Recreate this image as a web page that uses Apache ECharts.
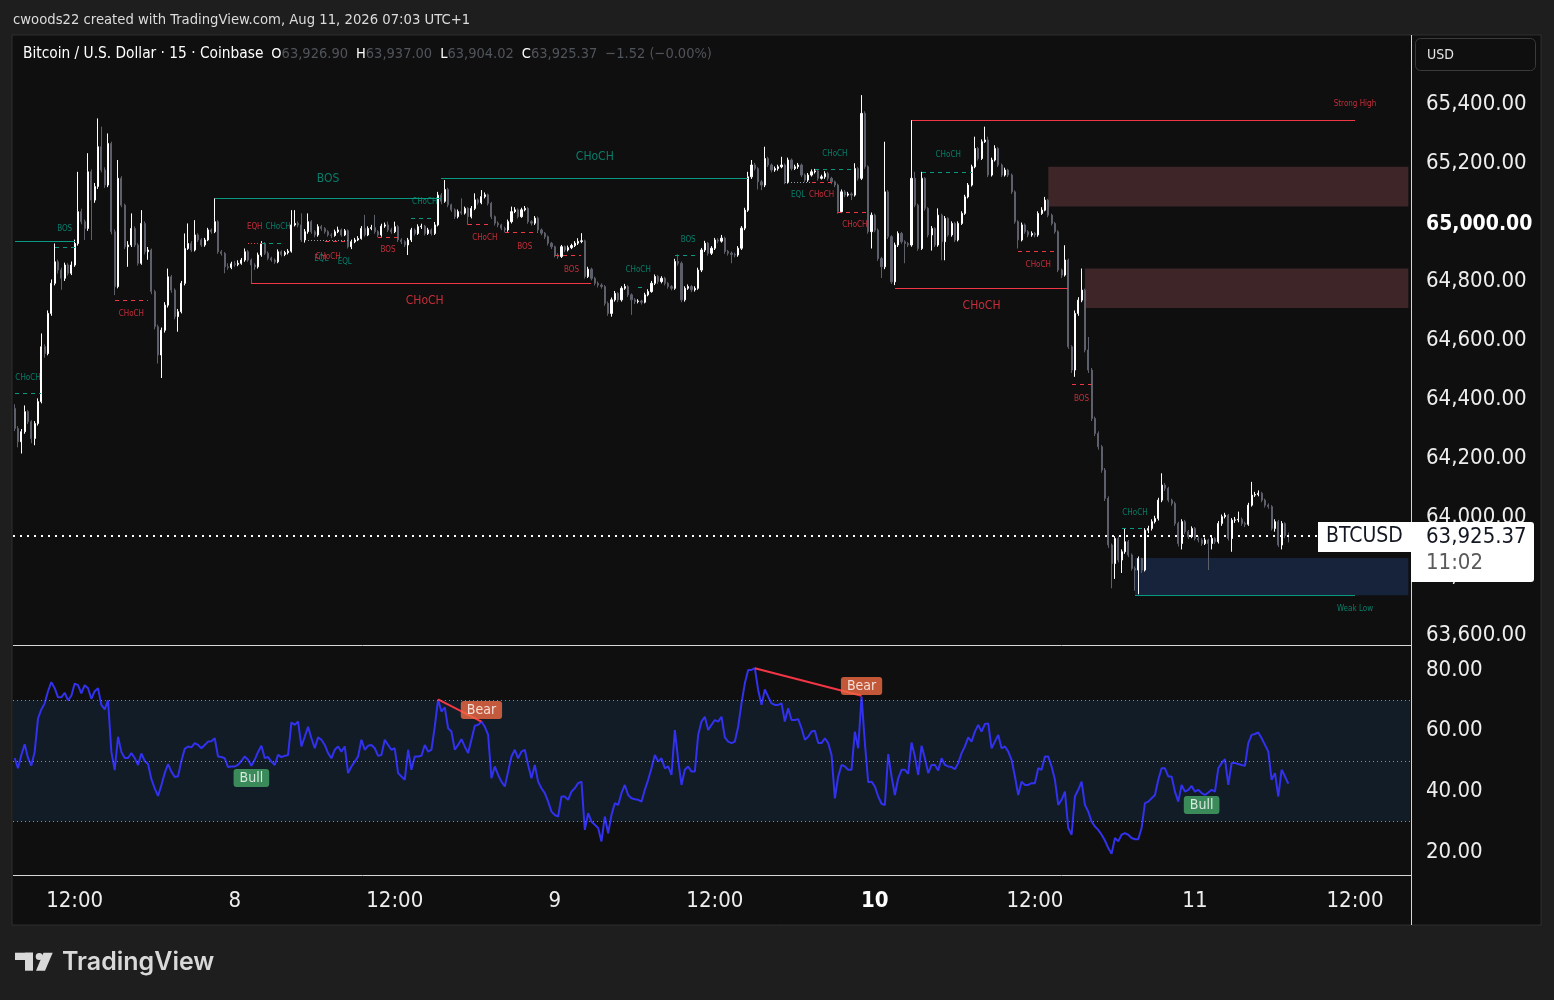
<!DOCTYPE html>
<html><head><meta charset="utf-8">
<script src="https://cdn.jsdelivr.net/npm/echarts@6/dist/echarts.min.js"></script>
<style>html,body{margin:0;padding:0;background:#1e1e1e;}#c{width:1554px;height:1000px;}</style>
</head><body><div id="c"></div>
<script>
const FONT = '"DejaVu Sans Condensed","DejaVu Sans",sans-serif';

// ---- data (15-minute candles, Aug 7 07:30 -> Aug 11 07:00) ----
const firstOpen = 64358;
const closes = [
64290,64245,64279,64347,64313,64256,64307,64381,64567,64544,
64680,64782,64855,64827,64799,64844,64816,64844,64917,65025,
64991,64968,65160,65064,65110,65245,65166,65115,65256,64957,
64771,65138,65047,64906,64912,64968,64912,64850,64985,64889,
64895,64754,64635,64539,64623,64708,64804,64759,64669,64686,
64782,64900,64917,64895,64946,64929,64912,64929,64963,64957,
64991,64889,64883,64838,64836,64848,64846,64850,64861,64889,
64861,64844,64838,64878,64917,64884,64867,64861,64855,64889,
64880,64886,64891,64980,64985,64980,64929,64957,64991,64957,
64946,64974,64968,64957,64946,64944,64957,64963,64946,64960,
64906,64923,64929,64934,64968,64946,64968,64971,64957,64946,
64976,64980,64963,64957,64974,64929,64923,64912,64929,64963,
64951,64974,64976,64951,64963,64951,64980,65081,65060,65100,
65048,65031,65008,65025,65020,65036,65008,65036,65065,65055,
65076,65082,65053,65008,64986,64980,64969,64963,64991,65025,
65031,65008,65031,65036,64991,64986,65003,64963,64952,64940,
64918,64906,64878,64873,64906,64895,64903,64910,64918,64924,
64926,64805,64830,64799,64782,64776,64771,64714,64680,64726,
64748,64726,64765,64771,64743,64726,64720,64722,64718,64743,
64754,64782,64805,64788,64799,64782,64771,64765,64856,64850,
64726,64765,64771,64760,64765,64827,64895,64918,64884,64901,
64929,64925,64935,64890,64884,64880,64878,64901,64969,65030,
65143,65183,65171,65126,65115,65205,65183,65166,65171,65177,
65183,65126,65200,65171,65177,65183,65149,65132,65149,65160,
65163,65138,65143,65154,65138,65126,65115,65025,65092,65081,
65085,65081,65171,65138,65358,65177,64957,65013,64962,64866,
64838,65092,64940,64787,64912,64951,64923,64917,64912,65138,
65047,64900,65138,65036,64946,64968,64912,65013,64923,65002,
64946,64985,64929,64985,65019,65075,65115,65177,65239,65205,
65262,65268,65149,65200,65239,65183,65149,65166,65149,65092,
64991,64929,64980,64957,64946,64951,64946,65019,65030,65064,
65013,64985,64957,64827,64810,64861,64567,64488,64680,64725,
64759,64556,64488,64324,64273,64228,64149,64053,63895,63832,
63917,63844,63872,63906,63861,63815,63810,63849,63810,63945,
63951,63974,63985,64047,64098,64087,64047,64036,63968,63900,
63974,63940,63923,63951,63917,63912,63900,63912,63900,63917,
63906,63968,63991,63996,63917,63979,63980,63982,63968,63965,
64030,64064,64066,64070,64047,64030,64025,63951,63974,63895,
63968,63926.9,63925.37];
const highs = [
64372,64298,64288,64368,64352,64318,64315,64392,64612,64575,
64690,64795,64917,64862,64835,64852,64850,64856,64930,65160,
65035,64998,65223,65168,65122,65341,65313,65175,65290,65262,
64965,65200,65145,65052,64925,65019,64975,64918,65030,64992,
64905,64900,64760,64642,64632,64718,64832,64810,64765,64695,
64790,64951,64985,64925,64996,64952,64935,64936,64970,64968,
65070,64996,64895,64888,64850,64855,64858,64860,64868,64900,
64895,64866,64850,64886,64925,64922,64890,64872,64866,64897,
64894,64892,64898,65030,65030,64992,65019,64966,65019,64996,
64962,64982,64980,64972,64962,64952,64964,64974,64968,64966,
64965,64930,64936,64942,64976,65014,64975,64980,65014,64962,
64984,64988,64991,64970,64991,64980,64935,64928,64936,64970,
64968,64982,64984,64980,64970,64968,64990,65092,65088,65132,
65106,65052,65036,65032,65070,65042,65040,65044,65087,65070,
65098,65090,65086,65058,65012,64992,64984,64974,64998,65042,
65040,65036,65038,65044,65040,64996,65010,65008,64968,64956,
64944,64922,64910,64884,64912,64910,64910,64916,64925,64935,
64952,64930,64838,64835,64804,64788,64782,64776,64720,64734,
64756,64752,64772,64780,64776,64748,64732,64728,64726,64750,
64762,64790,64812,64810,64806,64804,64786,64776,64865,64880,
64856,64772,64778,64776,64772,64835,64902,64926,64922,64908,
64936,64935,64946,64940,64895,64890,64886,64908,64976,65038,
65160,65200,65190,65176,65132,65245,65211,65188,65178,65184,
65211,65188,65208,65205,65184,65190,65188,65154,65156,65168,
65170,65168,65150,65162,65160,65143,65130,65120,65100,65098,
65092,65090,65189,65176,65420,65365,65182,65022,65018,64968,
64872,65262,65098,64945,64920,64958,64956,64928,64922,65335,
65160,65052,65160,65142,65040,64976,64972,65036,65018,65010,
65006,64992,64990,64992,65026,65082,65122,65184,65279,65244,
65270,65313,65279,65208,65250,65244,65188,65174,65170,65154,
65097,64996,64988,64985,64962,64958,64956,65026,65040,65075,
65068,65018,64990,64962,64832,64911,64866,64572,64690,64735,
64832,64764,64600,64495,64330,64280,64234,64156,64060,63900,
63925,63924,63880,63951,63912,63866,63822,63856,63852,63952,
63960,63982,63994,64055,64138,64105,64092,64052,64042,63974,
63982,63980,63946,63958,63956,63924,63918,63920,63916,63924,
63922,63976,63998,64004,64000,63986,63990,64008,63988,63974,
64038,64109,64075,64080,64075,64052,64036,64030,63982,63980,
63976,63972,63937];
const lows = [
64281,64226,64205,64272,64305,64240,64233,64300,64375,64530,
64538,64672,64775,64815,64760,64790,64808,64810,64838,64910,
64982,64929,64960,64929,65055,65102,65158,65105,65108,64948,
64742,64765,65040,64898,64838,64905,64905,64842,64845,64880,
64862,64745,64626,64510,64461,64615,64700,64750,64660,64618,
64680,64775,64895,64888,64890,64922,64905,64906,64925,64950,
64952,64882,64876,64816,64828,64830,64838,64840,64845,64855,
64855,64782,64827,64832,64872,64878,64860,64855,64848,64850,
64873,64874,64880,64886,64975,64972,64922,64920,64950,64950,
64938,64940,64960,64950,64940,64935,64940,64952,64940,64942,
64900,64898,64918,64925,64930,64940,64942,64962,64950,64938,
64940,64970,64956,64950,64952,64922,64915,64905,64878,64922,
64944,64946,64966,64944,64946,64944,64946,64975,65050,65055,
65040,65024,65000,65002,65014,65015,64980,65002,65030,65048,
65050,65070,65046,65000,64978,64972,64962,64955,64957,64985,
65020,65002,65004,65026,64984,64978,64980,64956,64945,64932,
64910,64898,64870,64865,64868,64888,64890,64898,64905,64912,
64918,64798,64800,64792,64775,64768,64764,64706,64672,64669,
64720,64718,64720,64760,64736,64675,64712,64714,64710,64714,
64738,64750,64776,64780,64782,64775,64764,64758,64760,64842,
64718,64720,64760,64752,64754,64760,64820,64888,64876,64878,
64895,64918,64920,64882,64876,64850,64870,64872,64895,64962,
65024,65136,65164,65100,65098,65108,65176,65158,65160,65164,
65172,65118,65120,65164,65166,65170,65142,65125,65126,65144,
65154,65130,65134,65136,65130,65118,65108,65018,65020,65074,
65076,65064,65076,65130,65132,65170,64950,64900,64955,64858,
64800,64830,64932,64780,64776,64905,64916,64850,64905,64906,
65040,64892,64895,65028,64938,64893,64905,64906,64860,64860,
64940,64940,64922,64924,64980,65014,65070,65110,65172,65198,
65200,65258,65142,65144,65195,65176,65142,65144,65142,65085,
64984,64900,64924,64950,64938,64940,64938,64940,65014,65026,
65006,64978,64950,64820,64800,64805,64560,64478,64465,64672,
64718,64548,64478,64315,64264,64218,64140,64044,63885,63748,
63780,63836,63800,63865,63854,63808,63740,63728,63800,63805,
63935,63944,63968,63978,64040,64078,64040,64028,63960,63890,
63880,63932,63915,63918,63910,63904,63892,63895,63810,63880,
63898,63900,63960,63985,63910,63872,63970,63972,63960,63956,
63960,64025,64058,64060,64040,64022,64018,63944,63940,63888,
63880,63918,63904.02];
const rsi = [
51,47.6,52,55.5,51,48.5,53,64,67,69,
73,76,74,71,71,72.5,70,71.5,75.5,75,
72.3,75,74,70.5,73,74,68.5,67,70,53,
47,58,53,51,51,52.6,51,48.7,52.5,50,
49,44,41,38.5,42,46,49,46.5,44.7,45,
50,54,54.8,54.5,55.9,55.3,54.2,55.3,56.4,56.5,
57.5,51.5,51.3,50.9,48,48.2,48.2,48.7,50,51.5,
50.4,48.4,50.4,53,55,51,51.3,49.8,48.7,52,
51.3,51.7,52,62.7,61.9,63,54.8,58,61.3,57.5,
54.2,57.8,57,55.3,52.6,50.9,53.7,54.8,53.1,54.8,
46,48.2,49.8,51.5,57,53.7,55,55.3,54.2,51.7,
52,57,55.3,53.7,54.2,46,44.9,43.8,53.7,47.1,
51.5,51.5,51.7,55.3,53.1,53.7,61.3,70.3,66.3,67.7,
60.8,59.7,53.7,55.3,57.2,54.8,52.6,57,61.6,61.9,
63,61.3,58.6,44.3,48.2,45.4,43.2,41.6,46.5,51.5,
53.7,50.9,53.1,53.7,48.7,44.3,48.7,43.2,41,39.4,
36.6,33.3,32.2,31.7,38.3,38.3,37.2,39.9,41,42.7,
43.2,27.3,32.8,30,29,27.9,23.5,31.7,26.2,32.2,
36.1,35.5,39.4,42.1,38.8,37.7,37.4,37.2,36.6,40.5,
43.8,47.6,52,49.8,50.9,47.6,48.2,45.4,60.2,50.4,
42.1,47.1,48.2,46.5,46.5,58.6,63,64.6,60.2,61.9,
63.5,63,64.6,57.8,56.4,55.9,56.4,61.3,69,75.6,
80,80,80.6,73.4,68.5,73.6,71.2,69,68.5,68.5,
69,63,67.4,63.5,63.5,63.8,60.8,57,58,59.7,
60,55.9,55.9,57.5,55.9,52,37.7,44.9,48.7,48.2,
47.1,47.1,59.7,54.2,71.2,56,43,43.2,41.6,38.3,
35.9,35.5,52.3,44.9,38.8,44.3,47.1,47.1,45.8,56.1,
51.5,45.4,55,50.9,46,48.7,48.7,46.9,50.9,48.7,
48.2,48,47.3,49.3,52.6,54.8,57.8,56.4,59.7,61.9,
59.7,62.2,62.4,54.2,56.4,58.6,54.2,54.8,53.1,50.4,
44.9,38.8,43.2,42.1,42.1,42.7,42.7,47.6,47.1,51.5,
51.5,48.2,43.8,35.5,37.2,39.9,27.9,25.7,38.3,40.5,
43.2,35.5,33.3,30,28.4,27.3,25.7,23.8,21.3,19.4,
24.6,23.5,25.7,26.2,25.7,24.6,24.2,24.2,27.9,36.1,
36.6,37.7,38.8,43.8,47.6,47.6,44.9,44.9,39.9,36.6,
42.1,39.9,40.5,41.8,39.9,40.5,39.4,38.8,39.6,40.5,
39.9,47.6,49.3,50.6,42.1,49.3,49.3,49,48.7,48.4,
55.9,58.6,58.9,59.4,57.5,55.3,53.1,43.8,46,38.3,
47.1,44.9,42.5];

// market-structure lines: [fromIndex, toIndex, price, colour, style]
const structureLines = [
 [0,18,64925,'G','S'],[12,18,64905,'G','D'],[0,8,64410,'G','D'],[30,40,64726,'R','D'],
 [60,128,65070,'G','S'],[71,173,64783,'R','S'],[128,220,65139,'G','S'],
 [70,74,64919,'R','P'],[74,80,64919,'G','D'],[88,100,64930,'N','P'],[93,99,64925,'R','D'],
 [109,115,64939,'R','D'],[119,125,65003,'G','D'],[136,143,64983,'R','D'],[147,157,64956,'R','D'],
 [162,170,64878,'R','D'],[187,189,64769,'G','D'],[198,204,64878,'G','D'],[240,252,65169,'G','D'],
 [231,239,65125,'N','P'],[239,245,65125,'R','D'],[247,256,65024,'R','D'],[272,287,65159,'G','D'],
 [269,402,65336,'R','S'],[264,316,64766,'R','S'],[301,312,64892,'R','D'],[317,323,64441,'R','D'],
 [332,338,63953,'G','D'],[336,402,63725,'G','S']
];
// labels: [text, index, price, colour, size]
const structureLabels = [
 ['BOS',15,64966,'G',8],['CHoCH',4,64461,'G',8],['CHoCH',35,64678,'R',8],
 ['BOS',94,65136,'G',12],['CHoCH',123,64722,'R',12],['CHoCH',174,65210,'G',12],
 ['EQH',72,64973,'R',8],['CHoCH',79,64973,'G',8],['EQL',92,64864,'G',8],['CHoCH',94,64871,'R',8],
 ['EQL',99,64854,'G',8],['BOS',112,64895,'R',8],['CHoCH',123,65058,'G',8],['CHoCH',141,64936,'R',8],
 ['BOS',153,64905,'R',8],['BOS',167,64827,'R',8],['CHoCH',187,64827,'G',8],['BOS',202,64929,'G',8],
 ['CHoCH',246,65220,'G',8],['EQL',235,65081,'G',8],['CHoCH',242,65081,'R',8],['CHoCH',252,64980,'R',8],
 ['CHoCH',280,65217,'G',8],['CHoCH',290,64705,'R',12],['CHoCH',307,64844,'R',8],['BOS',320,64390,'R',8],
 ['CHoCH',336,64003,'G',8],['Strong High',402,65390,'R',8],['Weak Low',402,63678,'G',8]
];
// zones: [fromIndex, toIndex, top, bottom, fill]
const zones = [
 [310,418,65177,65042,'#3d2528'],[321,418,64832,64698,'#3d2528'],[336,418,63851,63725,'#16233b']
];
// RSI divergence lines and tags
const divergenceLines = [[127,70.3,140,63],[222,80.6,254,71.5]];
const rsiTags = [['Bear',140,66.8,'#f06a43'],['Bear',254,74.7,'#f06a43'],['Bull',71,44.4,'#45a867'],['Bull',356,35.5,'#45a867']];
const rsiLevels = [70,50,30];

// time categories
const pad = n => String(n).padStart(2,'0');
const startTime = Date.UTC(2026,7,7,7,30);
const categories = [];
for (let k = 0; k < 419; k++) {
  const d = new Date(startTime + k*900000);
  categories.push(d.getUTCFullYear()+'-'+pad(d.getUTCMonth()+1)+'-'+pad(d.getUTCDate())+' '+pad(d.getUTCHours())+':'+pad(d.getUTCMinutes()));
}

const COL = {G:'#089981', R:'#f23645', N:'#9598a1'};
const DASH = {S:null, D:[4,4], P:[1,2]};
const candles = closes.map((c,i) => [i===0 ? firstOpen : closes[i-1], c, lows[i], highs[i]]);
const lastPrice = closes[closes.length-1];
const fmt = v => v.toLocaleString('en-US',{minimumFractionDigits:2, maximumFractionDigits:2});

const chart = echarts.init(document.getElementById('c'), null, {renderer:'canvas'});
const option = {
  animation: false,
  backgroundColor: 'transparent',
  grid: [
    {left:13, right:144, top:42, height:590},
    {left:13, right:144, top:639.65, height:242.7}
  ],
  xAxis: [
    {type:'category', gridIndex:0, data:categories, boundaryGap:true, axisLine:{show:false}, axisTick:{show:false}, axisLabel:{show:false}, splitLine:{show:false}},
    {type:'category', gridIndex:1, data:categories, boundaryGap:true, axisLine:{show:false}, axisTick:{show:false}, splitLine:{show:false},
     axisLabel:{interval:(i,v)=>{const t=v.slice(-5); return t==='00:00'||t==='12:00';},
       formatter:v=>{const t=v.slice(-5); if(t==='00:00'){const d=+v.slice(8,10); return d===10?'{b|10}':String(d);} return t;},
       color:'#eeeeee', fontSize:22, fontFamily:FONT, margin:8,
       rich:{b:{fontWeight:'bold', fontSize:22, fontFamily:FONT, color:'#ffffff'}}}}
  ],
  yAxis: [
    {type:'value', gridIndex:0, position:'right', min:63600, max:65600, interval:200, scale:true,
     axisLine:{show:false}, axisTick:{show:false}, splitLine:{show:false},
     axisLabel:{showMaxLabel:false, color:'#eeeeee', fontSize:22, fontFamily:FONT, margin:16, padding:[6,0,0,0],
       formatter:v=> v===65000 ? '{b|'+fmt(v)+'}' : fmt(v),
       rich:{b:{fontWeight:'bold', fontSize:21, fontFamily:FONT, color:'#ffffff', padding:[6,0,0,0]}}}},
    {type:'value', gridIndex:1, position:'right', min:10, max:90, interval:10,
     axisLine:{show:false}, axisTick:{show:false}, splitLine:{show:false},
     axisLabel:{color:'#eeeeee', fontSize:22, fontFamily:FONT, margin:16, padding:[6,0,0,0], showMinLabel:false, showMaxLabel:false,
       formatter:v=> (v%20===0 && v>=20 && v<=80) ? v.toFixed(2) : ''}}
  ],
  series: [
    {type:'candlestick', name:'BTCUSD', xAxisIndex:0, yAxisIndex:0, data:candles, barWidth:1.6, z:2,
     itemStyle:{color:'#ffffff', color0:'#5d606b', borderColor:'#ffffff', borderColor0:'#5d606b', borderWidth:1},
     markArea:{silent:true, data: zones.map(([x1,x2,p1,p2,c]) => [{coord:[x1,p1], itemStyle:{color:c}}, {coord:[x2,p2]}])},
     markLine:{silent:true, symbol:'none', label:{show:false},
       data: [{yAxis:lastPrice, lineStyle:{color:'#ffffff', width:2, type:[2,5]}}]}
    },
    {type:'scatter', xAxisIndex:0, yAxisIndex:0, symbolSize:1, silent:true, itemStyle:{color:'transparent'}, z:5,
     data: structureLabels.map(([t,x,p,c,s]) => ({value:[x,p], name:t, label:{show:true, position:'inside', formatter:t, color:COL[c], fontSize:s, fontFamily:FONT}}))},
    {type:'line', xAxisIndex:1, yAxisIndex:1, data:rsi, showSymbol:false, smooth:false, z:3,
     lineStyle:{color:'#3131ee', width:2},
     markArea:{silent:true, data:[[{yAxis:30, itemStyle:{color:'#111c27'}},{yAxis:70}]]},
     markLine:{silent:true, symbol:'none', label:{show:false},
       data: rsiLevels.map(v => ({yAxis:v, lineStyle:{color:'#8a8d95', width:1, type:[1,3]}}))}
    },
    {type:'lines', coordinateSystem:'cartesian2d', xAxisIndex:1, yAxisIndex:1, silent:true, z:4,
     data: divergenceLines.map(([x1,v1,x2,v2]) => ({coords:[[x1,v1],[x2,v2]], lineStyle:{color:'#f23645', width:2, type:'solid', opacity:1}}))},
    {type:'scatter', xAxisIndex:1, yAxisIndex:1, symbolSize:1, silent:true, itemStyle:{color:'transparent'}, z:6,
     data: rsiTags.map(([t,x,v,c]) => ({value:[x,v], name:t, label:{show:true, position:'inside', formatter:t, color:'#ffffff', fontSize:14, fontFamily:FONT,
       backgroundColor:c, padding:[2,6,2,6], borderRadius:3}}))}
  ]
};
chart.setOption(option);

// structure lines placed through the chart's own scales
const structureGfx = structureLines.map(([x1,x2,p,c,s]) => {
  const a = chart.convertToPixel({xAxisIndex:0, yAxisIndex:0}, [x1, p]);
  const b = chart.convertToPixel({xAxisIndex:0, yAxisIndex:0}, [x2, p]);
  const y = Math.round(a[1]) + 0.5;
  return {type:'line', z:40, silent:true, shape:{x1:Math.round(a[0]), y1:y, x2:Math.round(b[0]), y2:y},
          style:{stroke:COL[c], lineWidth:1, lineDash:DASH[s]}};
});

const py = chart.convertToPixel({yAxisIndex:0}, lastPrice);
const gfx = [
  {type:'rect', z:-10, shape:{x:12, y:35, width:1529, height:890}, style:{fill:'#0f0f0f', stroke:'#2e2e2e', lineWidth:1}},
  {type:'line', z:50, shape:{x1:1411.5, y1:35, x2:1411.5, y2:925}, style:{stroke:'#d6d6d6', lineWidth:1}},
  {type:'line', z:50, shape:{x1:13, y1:645.5, x2:1411, y2:645.5}, style:{stroke:'#d6d6d6', lineWidth:1}},
  {type:'line', z:50, shape:{x1:13, y1:875.5, x2:1411, y2:875.5}, style:{stroke:'#d6d6d6', lineWidth:1}},
  {type:'text', z:50, x:13, y:20, style:{text:'cwoods22 created with TradingView.com, Aug 11, 2026 07:03 UTC+1', fill:'#dcdcdc', font:'14.7px '+FONT, verticalAlign:'middle'}},
  {type:'text', z:50, x:23, y:54, style:{
    text:'{t|Bitcoin / U.S. Dollar · 15 · Coinbase}  {k|O}{v|63,926.90}  {k|H}{v|63,937.00}  {k|L}{v|63,904.02}  {k|C}{v|63,925.37}  {v|−1.52 (−0.00%)}',
    verticalAlign:'middle', font:'14px '+FONT,
    rich:{t:{fill:'#ffffff', font:'15.3px '+FONT}, k:{fill:'#ffffff', font:'14.5px '+FONT}, v:{fill:'#50545b', font:'14.5px '+FONT}}}},
  {type:'rect', z:50, shape:{x:1415.5, y:38.5, width:120, height:32, r:5}, style:{fill:'#0f0f0f', stroke:'#3a3a3a', lineWidth:1}},
  {type:'text', z:51, x:1427, y:55, style:{text:'USD', fill:'#e6e6e6', font:'14px '+FONT, verticalAlign:'middle'}},
  {type:'rect', z:60, shape:{x:1318, y:py-14, width:93, height:30}, style:{fill:'#ffffff'}},
  {type:'text', z:61, x:1364.5, y:py+1, style:{text:'BTCUSD', fill:'#131722', font:'21px '+FONT, align:'center', verticalAlign:'middle'}},
  {type:'rect', z:60, shape:{x:1411, y:py-14, width:123, height:60, r:[0,3,3,0]}, style:{fill:'#ffffff'}},
  {type:'text', z:61, x:1426, y:py+1, style:{text:fmt(lastPrice), fill:'#131722', font:'22px '+FONT, verticalAlign:'middle'}},
  {type:'text', z:61, x:1426, y:py+27, style:{text:'11:02', fill:'#5a5a5a', font:'22px '+FONT, verticalAlign:'middle'}},
  {type:'rect', z:50, shape:{x:15, y:952.7, width:18, height:7.3}, style:{fill:'#d9d9d9'}},
  {type:'rect', z:50, shape:{x:25, y:952.7, width:8, height:18}, style:{fill:'#d9d9d9'}},
  {type:'circle', z:50, shape:{cx:39.3, cy:956.5, r:3.6}, style:{fill:'#d9d9d9'}},
  {type:'polygon', z:50, shape:{points:[[43.5,952.7],[52.7,952.7],[45,970.7],[36,970.7]]}, style:{fill:'#d9d9d9'}},
  {type:'text', z:50, x:62, y:962, style:{text:'TradingView', fill:'#d9d9d9', font:'600 25px Inter, "Noto Sans", sans-serif', verticalAlign:'middle'}}
].concat(structureGfx);
chart.setOption({graphic: gfx});
</script>
</body></html>
